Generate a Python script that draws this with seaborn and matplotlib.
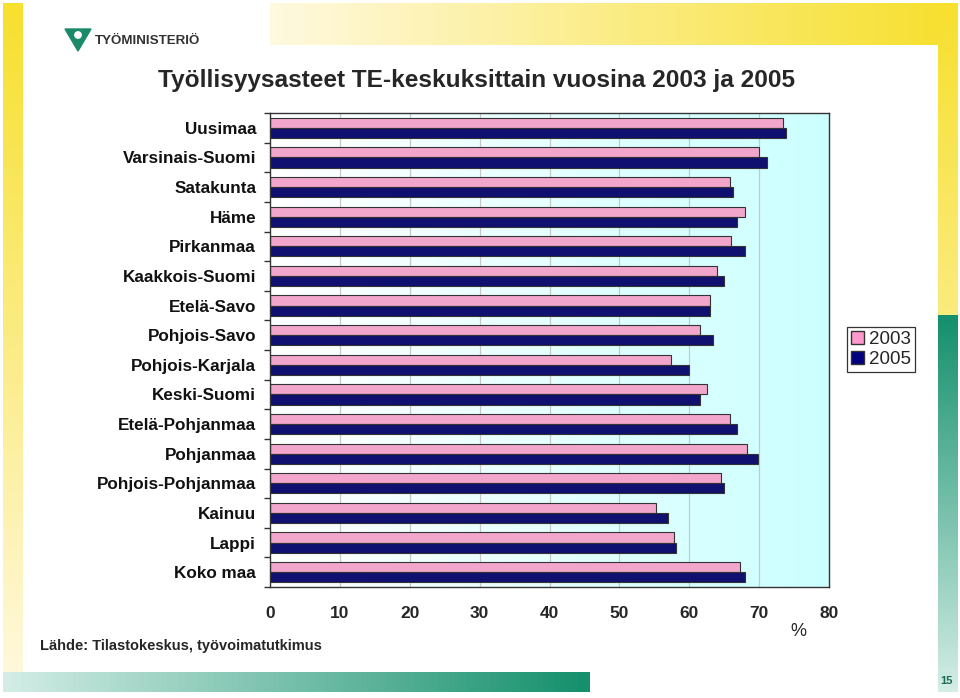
import numpy as np
import pandas as pd
import seaborn as sns
import matplotlib.pyplot as plt
from matplotlib.patches import Patch, Polygon, Circle
from matplotlib.colors import LinearSegmentedColormap

# data
regions = ['Uusimaa', 'Varsinais-Suomi', 'Satakunta', 'Häme', 'Pirkanmaa',
           'Kaakkois-Suomi', 'Etelä-Savo', 'Pohjois-Savo', 'Pohjois-Karjala',
           'Keski-Suomi', 'Etelä-Pohjanmaa', 'Pohjanmaa', 'Pohjois-Pohjanmaa',
           'Kainuu', 'Lappi', 'Koko maa']
rate_2003 = [73.4, 70.0, 65.8, 68.0, 66.0, 63.9, 62.9, 61.6, 57.4, 62.5,
             65.8, 68.3, 64.5, 55.3, 57.8, 67.2]
rate_2005 = [73.8, 71.1, 66.2, 66.9, 68.0, 65.0, 62.9, 63.4, 60.0, 61.5,
             66.8, 69.8, 65.0, 56.9, 58.1, 68.0]
years = ['2003', '2005']
x_ticks = [0, 10, 20, 30, 40, 50, 60, 70, 80]

df = pd.DataFrame({
    'alue': regions * 2,
    'arvo': rate_2003 + rate_2005,
    'vuosi': [years[0]] * len(regions) + [years[1]] * len(regions),
})

sns.set_style('white')
plt.rcParams['font.family'] = ['Liberation Sans', 'DejaVu Sans']

W, H = 960, 698
fig = plt.figure(figsize=(W / 100, H / 100), dpi=100)
fig.patch.set_facecolor('white')

# slide decorations
bg = fig.add_axes([0, 0, 1, 1], zorder=-5)
bg.set_xlim(0, W)
bg.set_ylim(H, 0)
bg.axis('off')
yel = LinearSegmentedColormap.from_list('yel', ['#fff9df', '#f7e02e'])
grn = LinearSegmentedColormap.from_list('grn', ['#d3ede6', '#15906c'])
bg.imshow(np.linspace(1, 0, 100).reshape(-1, 1), cmap=yel, aspect='auto',
          extent=(3, 23, 692, 3), vmin=0, vmax=1)
bg.imshow(np.linspace(0, 1, 100).reshape(1, -1), cmap=yel, aspect='auto',
          extent=(270, 958, 45, 3), vmin=0, vmax=1)
bg.imshow(np.linspace(1, 0.55, 100).reshape(-1, 1), cmap=yel, aspect='auto',
          extent=(938, 958, 315, 3), vmin=0, vmax=1)
bg.imshow(np.linspace(1, 0, 100).reshape(-1, 1), cmap=grn, aspect='auto',
          extent=(938, 958, 692, 315), vmin=0, vmax=1)
bg.imshow(np.linspace(0, 1, 100).reshape(1, -1), cmap=grn, aspect='auto',
          extent=(3, 590, 692, 672), vmin=0, vmax=1)
bg.add_patch(Polygon([[65, 29], [91, 29], [78, 51]], closed=True, color='#1a8a68'))
bg.add_patch(Circle((78, 35), 3.2, color='white'))
bg.text(95, 41, 'TYÖMINISTERIÖ', fontsize=9.6, fontweight='bold', color='#333333', va='center')
bg.text(946, 681, '15', fontsize=8, fontweight='bold', color='#1a6a55', ha='center', va='center')

# chart
ax = fig.add_axes([270 / W, 1 - 587 / H, 559 / W, 474 / H])
grad = LinearSegmentedColormap.from_list('bgc', ['#ffffff', '#ccffff'])
ax.imshow(np.linspace(0, 1, 200).reshape(1, -1), cmap=grad, aspect='auto',
          extent=(0, 80, 15.5, -0.5), zorder=0)

sns.barplot(data=df, y='alue', x='arvo', hue='vuosi', orient='h',
            palette=['#ff99cc', '#000080'], width=0.68, edgecolor='#333333',
            linewidth=0.8, ax=ax, zorder=3, legend=False)

ax.set_xlim(0, 80)
ax.set_ylim(15.5, -0.5)
ax.set_xticks(x_ticks)
ax.set_xticklabels([str(t) for t in x_ticks], fontsize=12.5, fontweight='bold')
for t in x_ticks[1:-1]:
    ax.axvline(t, color='#c8c8c8', lw=0.9, zorder=1)
ax.set_xlabel('')
ax.set_ylabel('')
ax.tick_params(axis='x', length=0, pad=14)
ax.tick_params(axis='y', which='major', length=0, pad=10)
for lab in ax.get_yticklabels():
    lab.set_fontsize(12.3)
    lab.set_fontweight('bold')
    lab.set_color('#111111')
ax.set_yticks(np.arange(-0.5, 16, 1), minor=True)
ax.tick_params(axis='y', which='minor', left=True, length=4, width=1,
               color='#333333', direction='out')
for s in ax.spines.values():
    s.set_visible(True)
    s.set_color('#333333')
    s.set_linewidth(1)
    s.set_zorder(5)

fig.text(477 / W, 1 - 80 / H, 'Työllisyysasteet TE-keskuksittain vuosina 2003 ja 2005',
         ha='center', va='center', fontsize=17.6, fontweight='bold')
fig.text(798 / W, 1 - 632 / H, '%', ha='center', va='center', fontsize=13)
fig.text(40 / W, 1 - 646 / H, 'Lähde: Tilastokeskus, työvoimatutkimus',
         ha='left', va='center', fontsize=10.5, fontweight='bold')

handles = [Patch(facecolor='#ff99cc', edgecolor='#333333', label=years[0]),
           Patch(facecolor='#000080', edgecolor='#333333', label=years[1])]
leg = fig.legend(handles=handles, loc='upper left',
                 bbox_to_anchor=(847 / W, 1 - 327 / H), fontsize=13.5,
                 frameon=True, fancybox=False, handlelength=0.7, handleheight=0.7,
                 handletextpad=0.3, borderpad=0.2, labelspacing=0.15, borderaxespad=0)
leg.get_frame().set_edgecolor('#000000')
leg.get_frame().set_linewidth(0.9)

fig.savefig('out.png', dpi=100)
